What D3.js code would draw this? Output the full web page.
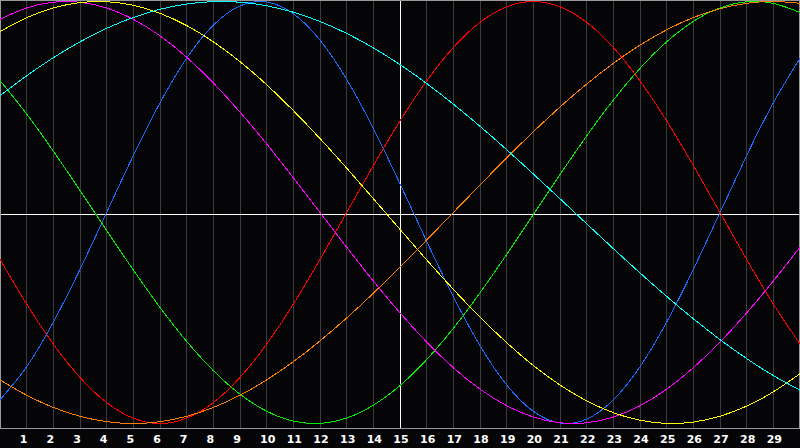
<!DOCTYPE html>
<html>
<head>
<meta charset="utf-8">
<script src="https://cdn.jsdelivr.net/npm/d3@7"></script>
<style>
  body { margin: 0; background: #050508; }
  svg { display: block; }
</style>
</head>
<body>
<svg></svg>
<script>
// Step 1: Data (one value per day 0..30)
//------------------------------------------
var days = d3.range(0, 31);
var dayLabels = ["1","2","3","4","5","6","7","8","9","10","11","12","13","14","15",
                 "16","17","18","19","20","21","22","23","24","25","26","27","28","29"];

var physical = [-0.8879,-0.7311,-0.5196,-0.2698,0,0.2698,0.5196,0.7311,0.8879,0.9791,0.9977,0.9423,0.8170,0.6311,0.3984,0.1362,
                -0.1362,-0.3984,-0.6311,-0.8170,-0.9423,-0.9977,-0.9791,-0.8879,-0.7311,-0.5196,-0.2698,0,0.2698,0.5196,0.7311];
var emotional = [-0.2225,-0.4339,-0.6235,-0.7818,-0.9010,-0.9749,-1,-0.9749,-0.9010,-0.7818,-0.6235,-0.4339,-0.2225,0,0.2225,0.4339,
                 0.6235,0.7818,0.9010,0.9749,1,0.9749,0.9010,0.7818,0.6235,0.4339,0.2225,0,-0.2225,-0.4339,-0.6235];
var intellectual = [0.6256,0.4667,0.2908,0.1045,-0.0856,-0.2726,-0.4498,-0.6107,-0.7495,-0.8612,-0.9418,-0.9884,-0.9993,-0.9740,-0.9135,-0.8200,
                    -0.6971,-0.5488,-0.3804,-0.1986,-0.0096,0.1798,0.3628,0.5327,0.6831,0.8090,0.9056,0.9695,0.9984,0.9911,0.9480];
var intuitive = [0.9158,0.9694,0.9966,0.9966,0.9694,0.9158,0.8372,0.7357,0.6142,0.4759,0.3247,0.1646,0,-0.1646,-0.3247,-0.4759,
                 -0.6142,-0.7357,-0.8372,-0.9158,-0.9694,-0.9966,-0.9966,-0.9694,-0.9158,-0.8372,-0.7357,-0.6142,-0.4759,-0.3247,-0.1646];
var aesthetic = [0.8573,0.9232,0.9693,0.9948,0.9990,0.9820,0.9440,0.8860,0.8090,0.7148,0.6054,0.4830,0.3504,0.2103,0.0657,-0.0802,
                 -0.2246,-0.3640,-0.4958,-0.6168,-0.7252,-0.8177,-0.8926,-0.9488,-0.9847,-0.9996,-0.9932,-0.9656,-0.9175,-0.8498,-0.7640];
var awareness = [-0.7934,-0.8660,-0.9239,-0.9659,-0.9914,-1,-0.9914,-0.9659,-0.9239,-0.8660,-0.7934,-0.7071,-0.6088,-0.5,-0.3827,-0.2588,
                 -0.1305,0,0.1305,0.2588,0.3827,0.5,0.6088,0.7071,0.7934,0.8660,0.9239,0.9659,0.9914,1,0.9914];
var spiritual = [0.5537,0.6480,0.7336,0.8090,0.8729,0.9245,0.9631,0.9881,0.9994,0.9966,0.9798,0.9492,0.9053,0.8488,0.7803,0.7008,
                 0.6115,0.5136,0.4085,0.2977,0.1827,0.0651,-0.0534,-0.1711,-0.2864,-0.3978,-0.5035,-0.6023,-0.6925,-0.7728,-0.8425];

var series = [
  { values: physical, color: "#1a6cff" },
  { values: emotional, color: "#ff0000" },
  { values: intellectual, color: "#00ee00" },
  { values: intuitive, color: "#ff00ff" },
  { values: aesthetic, color: "#ffff00" },
  { values: awareness, color: "#ff8000" },
  { values: spiritual, color: "#00ffff" }
];

// Step 2: Set up chart
//------------------------------------------
var svgWidth = 800;
var svgHeight = 448;
var plotHeight = 428;

var svg = d3.select("svg")
    .attr("width", svgWidth)
    .attr("height", svgHeight);

svg.append("rect")
    .attr("width", svgWidth)
    .attr("height", svgHeight)
    .attr("fill", "#050508");

// Step 3: Scales
//------------------------------------------
var xScale = d3.scaleLinear()
    .domain([0, 30])
    .range([0, svgWidth]);

var yScale = d3.scaleLinear()
    .domain([-1, 1])
    .range([423.5, 1.5]);

// Step 4: Grid lines (day 15 is the white one)
//------------------------------------------
svg.append("g")
    .selectAll("line")
    .data(d3.range(1, 30))
    .enter()
    .append("line")
    .attr("x1", d => Math.floor(xScale(d)) + 0.5)
    .attr("x2", d => Math.floor(xScale(d)) + 0.5)
    .attr("y1", 0)
    .attr("y2", plotHeight)
    .attr("stroke", d => d === 15 ? "#ffffff" : "#3c3c3c")
    .attr("stroke-width", 1);

// zero line
svg.append("line")
    .attr("x1", 0)
    .attr("x2", svgWidth)
    .attr("y1", yScale(0) + 2)
    .attr("y2", yScale(0) + 2)
    .attr("stroke", "#ffffff")
    .attr("stroke-width", 1);

// frame
svg.append("rect")
    .attr("x", 0.5)
    .attr("y", 0.5)
    .attr("width", svgWidth - 1)
    .attr("height", plotHeight)
    .attr("fill", "none")
    .attr("stroke", "#9a9a9a")
    .attr("stroke-width", 1);

// Step 5: The curves
//------------------------------------------
var line = d3.line()
    .x((d, i) => xScale(days[i]))
    .y(d => yScale(d))
    .curve(d3.curveNatural);

svg.append("g")
    .selectAll("path")
    .data(series)
    .enter()
    .append("path")
    .attr("d", d => line(d.values))
    .attr("fill", "none")
    .attr("stroke", d => d.color)
    .attr("stroke-width", 1)
    .attr("shape-rendering", "crispEdges");

// Step 6: Day labels along the bottom
//------------------------------------------
svg.append("g")
    .selectAll("text")
    .data(dayLabels)
    .enter()
    .append("text")
    .attr("x", (d, i) => xScale(i + 1) + (d.length > 1 ? 1 : -3))
    .attr("y", 443)
    .attr("text-anchor", "middle")
    .attr("fill", "#ffffff")
    .attr("font-family", "DejaVu Sans, sans-serif")
    .attr("font-weight", "bold")
    .attr("font-size", "11px")
    .text(d => d);
</script>
</body>
</html>
